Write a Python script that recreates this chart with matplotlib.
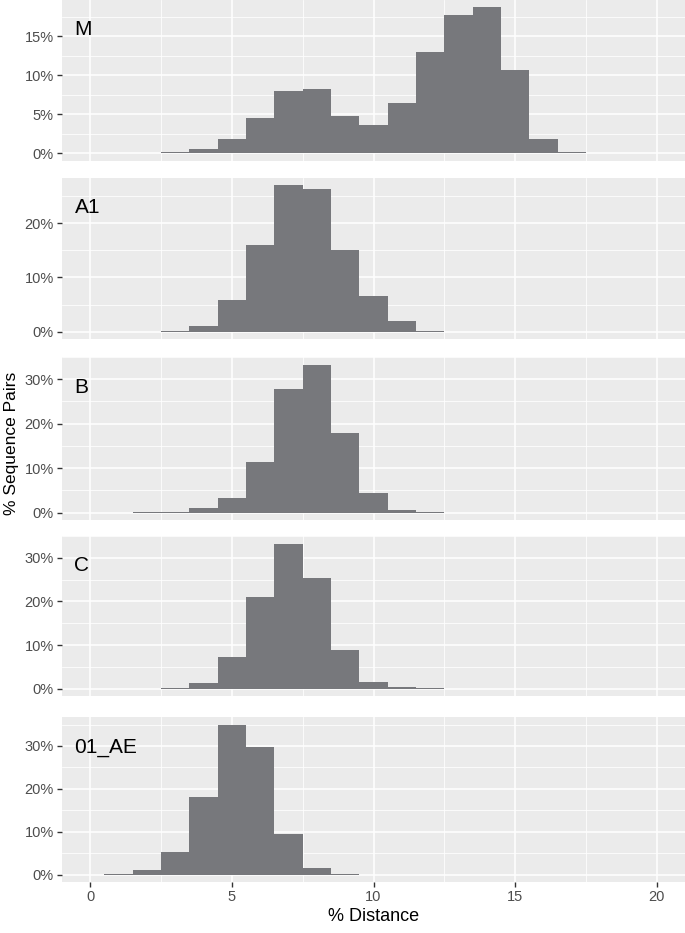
import numpy as np
import matplotlib
matplotlib.use('Agg')
import matplotlib.pyplot as plt
from matplotlib.ticker import FuncFormatter

plt.rcParams['font.family'] = ['Liberation Sans', 'DejaVu Sans']

# histogram bins (1% wide, centred on integers), values in % of sequence pairs
bin_centers = list(range(1, 20))
subtypes = ['M', 'A1', 'B', 'C', '01_AE']
pct_M = [0.02, 0.05, 0.15, 0.6, 1.8, 4.55, 8.0, 8.2, 4.85, 3.6, 6.5, 13.0,
         17.7, 18.7, 10.7, 1.8, 0.12, 0.0, 0.0]
pct_A1 = [0.0, 0.03, 0.08, 1.0, 5.75, 16.0, 27.0, 26.2, 15.0, 6.6, 1.9, 0.2,
          0.0, 0.0, 0.0, 0.0, 0.0, 0.0, 0.0]
pct_B = [0.02, 0.03, 0.15, 1.05, 3.3, 11.4, 27.7, 33.2, 17.9, 4.4, 0.5, 0.05,
         0.0, 0.0, 0.0, 0.0, 0.0, 0.0, 0.0]
pct_C = [0.0, 0.0, 0.15, 1.35, 7.3, 21.1, 33.1, 25.4, 8.9, 1.6, 0.35, 0.1,
         0.03, 0.03, 0.0, 0.0, 0.0, 0.0, 0.0]
pct_AE = [0.03, 0.95, 5.15, 18.1, 35.0, 29.75, 9.4, 1.45, 0.15, 0.0, 0.0,
          0.0, 0.0, 0.0, 0.0, 0.0, 0.0, 0.0, 0.0]
panel_data = [pct_M, pct_A1, pct_B, pct_C, pct_AE]
y_major = [[0, 5, 10, 15], [0, 10, 20], [0, 10, 20, 30], [0, 10, 20, 30], [0, 10, 20, 30]]

W, H = 685, 933
# panel top/bottom in pixels
panel_px = [(0, 160.7), (177.7, 339), (357, 520), (536, 696), (717, 882)]
left_px, right_px = 62, 685

bar_color = '#77787c'
bg = '#ebebeb'

fig = plt.figure(figsize=(W / 100, H / 100), dpi=100)

for i, (name, vals) in enumerate(zip(subtypes, panel_data)):
    top, bot = panel_px[i]
    ax = fig.add_axes([left_px / W, 1 - bot / H, (right_px - left_px) / W, (bot - top) / H])
    ax.set_facecolor(bg)
    for s in ax.spines.values():
        s.set_visible(False)

    ax.bar(bin_centers, vals, width=1.0, color=bar_color, linewidth=0, zorder=3)

    ymax = max(vals)
    ax.set_ylim(-0.05 * ymax, 1.05 * ymax)
    ax.set_xlim(-1, 21)

    ax.set_xticks([0, 5, 10, 15, 20])
    ax.set_xticks([2.5, 7.5, 12.5, 17.5], minor=True)
    step = y_major[i][1] - y_major[i][0]
    ax.set_yticks(y_major[i])
    ax.set_yticks([v + step / 2 for v in y_major[i]], minor=True)
    ax.yaxis.set_major_formatter(FuncFormatter(lambda v, p: f'{v:.0f}%'))

    ax.grid(which='major', color='white', linewidth=1.1, zorder=0)
    ax.grid(which='minor', color='white', linewidth=0.55, zorder=0)
    ax.set_axisbelow(True)

    ax.tick_params(axis='both', which='major', length=3.8, width=1.0, color='#333333',
                   labelsize=10.5, labelcolor='#4d4d4d', pad=2)
    ax.tick_params(axis='both', which='minor', length=0)
    if i < len(subtypes) - 1:
        ax.tick_params(axis='x', which='major', bottom=False, labelbottom=False)
    else:
        ax.set_xlabel('% Distance', fontsize=13, color='black', labelpad=3)

    ax.text(0.02, 0.815, name, transform=ax.transAxes, ha='left', va='center',
            fontsize=15, color='black')

fig.text(12 / W, 1 - 443 / H, '% Sequence Pairs', rotation=90, ha='center', va='center',
         fontsize=12.5, color='black')

fig.savefig('out.png', dpi=100)
